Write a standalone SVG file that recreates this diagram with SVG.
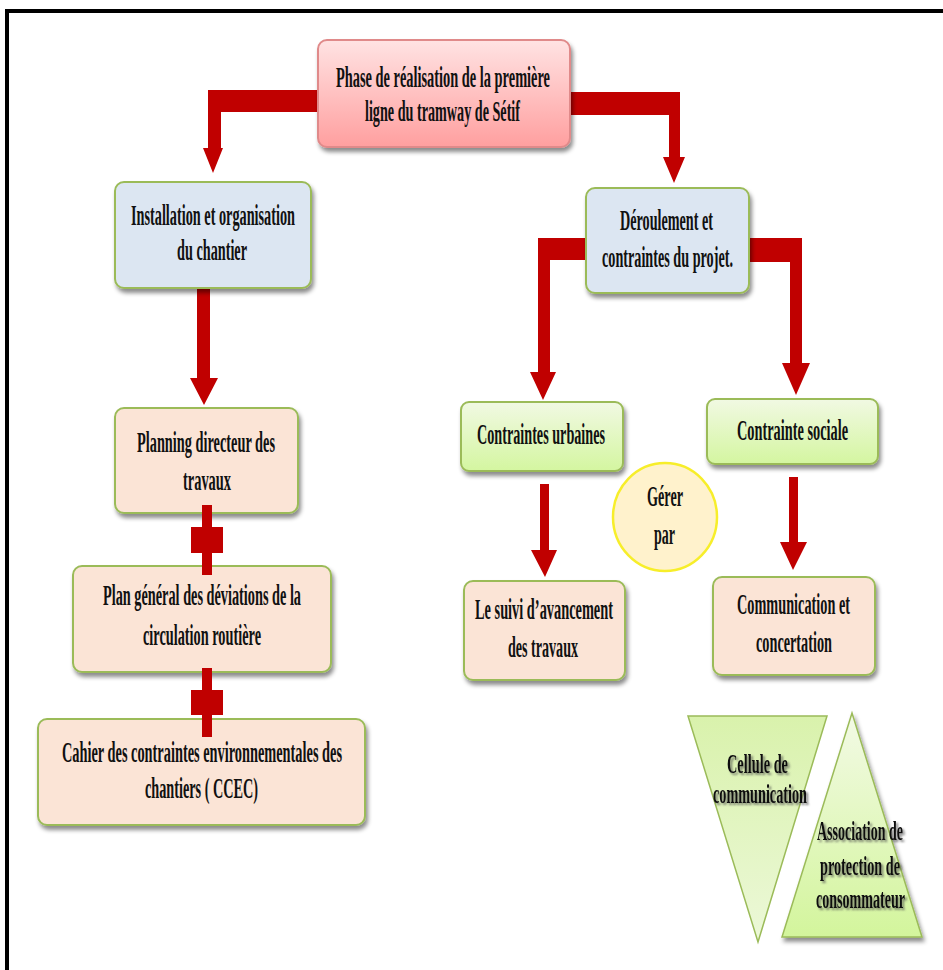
<svg xmlns="http://www.w3.org/2000/svg" width="943" height="970" viewBox="0 0 943 970">
<defs>
<style>
.t{font-family:"Liberation Serif","Times New Roman",serif;font-weight:bold;font-size:30px;fill:#111;text-anchor:middle}
.arr{fill:#C00000}
.box{stroke:#9BBB59;stroke-width:2;filter:url(#sh)}
.blue{fill:#DCE6F2}
.peach{fill:#FBE4D6}
.green{fill:url(#gg)}
.ts{filter:url(#tsh);font-size:27px}
</style>
<linearGradient id="pg" x1="0" y1="0" x2="0" y2="1"><stop offset="0" stop-color="#FFE3E3"/><stop offset="1" stop-color="#FF9F9F"/></linearGradient>
<linearGradient id="gg" x1="0" y1="0" x2="0" y2="1"><stop offset="0" stop-color="#F1F9E3"/><stop offset="1" stop-color="#D4F6A0"/></linearGradient>
<linearGradient id="tg1" x1="0" y1="0" x2="0" y2="1"><stop offset="0" stop-color="#D9F2AC"/><stop offset="1" stop-color="#ECF8D8"/></linearGradient>
<linearGradient id="tg2" x1="0" y1="0" x2="0" y2="1"><stop offset="0" stop-color="#F3FAE6"/><stop offset="1" stop-color="#D3F59C"/></linearGradient>
<filter id="sh" x="-10%" y="-10%" width="130%" height="140%"><feDropShadow dx="2" dy="4" stdDeviation="2" flood-color="#000" flood-opacity="0.45"/></filter>
<filter id="tsh" x="-10%" y="-20%" width="130%" height="150%"><feDropShadow dx="2" dy="2" stdDeviation="1" flood-color="#444" flood-opacity="0.7"/></filter>
</defs>
<rect width="943" height="970" fill="#fff"/>
<path d="M7,970 V11 H943" fill="none" stroke="#000" stroke-width="4"/>

<g id="connectors">
<polygon class="arr" points="320,90 208,90 208,148 203,148 213,173 223,148 221,148 221,112 320,112"/>
<polygon class="arr" points="566,92 680,92 680,157 685,157 674,183 663,157 669,157 669,115 566,115"/>
<polygon class="arr" points="197,286 210,286 210,378 218,378 204,405 190,378 197,378"/>
<polygon class="arr" points="590,238 538,238 538,372 530,372 543,400 556,372 550,372 550,260 590,260"/>
<polygon class="arr" points="745,238 802,238 802,363 810,363 796,395 782,363 790,363 790,262 745,262"/>
<polygon class="arr" points="540,484 549,484 549,550 557,550 545,577 531,550 540,550"/>
<polygon class="arr" points="789,477 798,477 798,542 807,542 793,570 780,542 789,542"/>
</g>

<g id="top">
<rect x="318" y="40" width="252" height="107" rx="9" fill="url(#pg)" stroke="#E08A8A" stroke-width="2" filter="url(#sh)"/>
<text class="t" x="443" y="87" textLength="214" lengthAdjust="spacingAndGlyphs">Phase de réalisation de la première</text>
<text class="t" x="442.5" y="121" textLength="155" lengthAdjust="spacingAndGlyphs">ligne du tramway de Sétif</text>
</g>

<g id="installation">
<rect class="box blue" x="115" y="182" width="196" height="106" rx="9"/>
<text class="t" x="213" y="225" textLength="164" lengthAdjust="spacingAndGlyphs">Installation et organisation</text>
<text class="t" x="212" y="260" textLength="70" lengthAdjust="spacingAndGlyphs">du chantier</text>
</g>

<g id="deroulement">
<rect class="box blue" x="586" y="188" width="163" height="105" rx="9"/>
<text class="t" x="666.5" y="230" textLength="93" lengthAdjust="spacingAndGlyphs">Déroulement et</text>
<text class="t" x="667.5" y="267" textLength="131" lengthAdjust="spacingAndGlyphs">contraintes du projet.</text>
</g>

<g id="planning">
<rect class="box peach" x="115" y="408" width="183" height="105" rx="9"/>
<text class="t" x="206" y="452" textLength="138" lengthAdjust="spacingAndGlyphs">Planning directeur des</text>
<text class="t" x="207" y="490" textLength="48" lengthAdjust="spacingAndGlyphs">travaux</text>
</g>

<g id="plan-general">
<rect class="box peach" x="73" y="566" width="258" height="106" rx="9"/>
<text class="t" x="202" y="605" textLength="198" lengthAdjust="spacingAndGlyphs">Plan général des déviations de la</text>
<text class="t" x="202" y="645" textLength="118" lengthAdjust="spacingAndGlyphs">circulation routière</text>
</g>

<g id="cahier">
<rect class="box peach" x="38" y="719" width="327" height="106" rx="9"/>
<text class="t" x="202" y="762" textLength="280" lengthAdjust="spacingAndGlyphs">Cahier des contraintes environnementales des</text>
<text class="t" x="201.5" y="798" textLength="113" lengthAdjust="spacingAndGlyphs">chantiers ( CCEC)</text>
</g>

<g id="links">
<polygon class="arr" points="202,505 212,505 212,527 223,527 223,553 212,553 212,575 202,575 202,553 191,553 191,527 202,527"/>
<polygon class="arr" points="202,668 212,668 212,690 223,690 223,715 212,715 212,737 202,737 202,715 191,715 191,690 202,690"/>
</g>

<g id="urbaines">
<rect class="box green" x="461" y="402" width="162" height="69" rx="8"/>
<text class="t" x="541" y="444" textLength="128" lengthAdjust="spacingAndGlyphs">Contraintes urbaines</text>
</g>

<g id="sociale">
<rect class="box green" x="707" y="399" width="171" height="65" rx="8"/>
<text class="t" x="792.5" y="440" textLength="111" lengthAdjust="spacingAndGlyphs">Contrainte sociale</text>
</g>

<g id="gerer">
<ellipse cx="665" cy="517" rx="52" ry="54" fill="#FFF2CC" stroke="#F7EE2A" stroke-width="2.5"/>
<text class="t" x="665" y="506" textLength="36" lengthAdjust="spacingAndGlyphs">Gérer</text>
<text class="t" x="664.5" y="544" textLength="21" lengthAdjust="spacingAndGlyphs">par</text>
</g>

<g id="suivi">
<rect class="box peach" x="464" y="581" width="161" height="99" rx="9"/>
<text class="t" x="544" y="619" textLength="138" lengthAdjust="spacingAndGlyphs">Le suivi d’avancement</text>
<text class="t" x="543" y="657" textLength="70" lengthAdjust="spacingAndGlyphs">des travaux</text>
</g>

<g id="communication">
<rect class="box peach" x="713" y="577" width="162" height="98" rx="9"/>
<text class="t" x="793.5" y="614" textLength="113" lengthAdjust="spacingAndGlyphs">Communication et</text>
<text class="t" x="794" y="652" textLength="76" lengthAdjust="spacingAndGlyphs">concertation</text>
</g>

<g id="cellule">
<polygon points="688,716 827,716 758,942" fill="url(#tg1)" stroke="#9BBB59" stroke-width="1.5"/>
<text class="t ts" x="757.5" y="773" textLength="61" lengthAdjust="spacingAndGlyphs">Cellule de</text>
<text class="t ts" x="760" y="803" textLength="94" lengthAdjust="spacingAndGlyphs">communication</text>
</g>

<g id="association">
<polygon points="852,713 922,937 782,937" fill="url(#tg2)" stroke="#9BBB59" stroke-width="1.5" filter="url(#sh)"/>
<text class="t ts" x="860" y="840" textLength="86" lengthAdjust="spacingAndGlyphs">Association de</text>
<text class="t ts" x="860" y="875" textLength="80" lengthAdjust="spacingAndGlyphs">protection de</text>
<text class="t ts" x="860.5" y="908" textLength="89" lengthAdjust="spacingAndGlyphs">consommateur</text>
</g>
</svg>
